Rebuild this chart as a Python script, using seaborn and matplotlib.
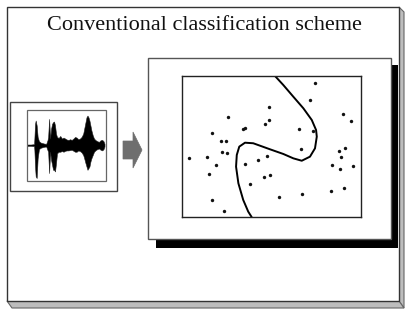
import matplotlib
matplotlib.use("Agg")
import matplotlib.pyplot as plt
import seaborn as sns
import pandas as pd
from matplotlib.patches import Rectangle, Polygon

sns.set_theme(style="white")
plt.rcParams['font.family'] = ['Liberation Serif', 'DejaVu Serif']

title = "Conventional classification scheme"

# scatter points (feature space, 0-100)
pt_x = [74.5, 71.7, 48.8, 90.1, 94.2, 25.9, 48.8, 46.6, 35.0, 34.1, 65.5, 73.0, 16.6, 21.6,
        24.4, 90.9, 87.7, 66.7, 22.3, 25.0, 88.6, 4.1, 14.2, 47.7, 42.3, 18.8, 35.4, 83.6,
        95.5, 88.1, 14.9, 49.2, 45.8, 37.8, 90.3, 83.1, 66.9, 54.4, 16.8, 23.5]
pt_y = [95.0, 83.0, 77.8, 73.1, 68.4, 70.8, 68.9, 66.0, 63.2, 62.3, 62.7, 61.3, 59.9, 53.8,
        54.2, 49.1, 46.5, 48.1, 45.8, 45.3, 42.9, 41.5, 42.5, 43.2, 40.3, 37.0, 37.7, 36.8,
        36.3, 33.7, 30.4, 29.5, 28.3, 23.6, 20.5, 18.4, 16.3, 14.2, 12.0, 4.5]

# decision boundary
bd_x = [51.96, 56.6, 62.2, 67.8, 72.5, 74.9, 75.3, 74.3, 71.5, 66.9, 62.2, 56.6, 49.2,
        39.8, 35.2, 32.0, 30.6, 30.2, 31.5, 34.2, 37.0, 38.9]
bd_y = [100, 93.6, 85.3, 77.1, 68.8, 61.7, 57.0, 48.7, 42.8, 39.9, 41.6, 44.7, 48.0,
        52.3, 52.7, 49.9, 44.0, 35.7, 23.9, 12.1, 3.8, 0]

# speech waveform envelope (time, top, bottom)
wave_t = [5, 15, 25, 26, 28, 30, 33, 36, 40, 45, 55, 62, 66, 68, 71, 74, 77, 80, 83, 86, 89,
          92, 95, 100, 105, 110, 115, 120, 125, 130, 135, 140, 145, 150, 155, 160, 165, 170,
          175, 178, 182, 185, 188, 191, 194, 197, 200, 204, 208, 213, 218, 223, 228, 233,
          237, 240]
wave_top = [118, 118, 117, 100, 55, 45, 60, 95, 108, 112, 115, 116, 105, 95, 40, 100, 70, 55,
            50, 48, 60, 85, 95, 98, 92, 100, 97, 100, 103, 104, 102, 104, 100, 95, 97, 102,
            100, 95, 85, 70, 50, 35, 30, 35, 45, 60, 75, 90, 100, 105, 108, 110, 105, 104,
            108, 116]
wave_bot = [122, 122, 123, 135, 185, 215, 220, 160, 132, 128, 125, 124, 135, 140, 205, 140,
            165, 180, 195, 195, 200, 175, 145, 140, 140, 138, 140, 137, 136, 136, 135, 134,
            137, 140, 140, 136, 138, 142, 150, 160, 175, 185, 195, 190, 185, 170, 160, 150,
            140, 135, 132, 130, 134, 136, 132, 124]

W, H = 405, 309
fig = plt.figure(figsize=(W / 100, H / 100), dpi=100)
fig.patch.set_facecolor("white")

bg = fig.add_axes([0, 0, 1, 1])
bg.set_xlim(0, W)
bg.set_ylim(H, 0)
bg.axis("off")

# outer slide frame with bevel
bg.add_patch(Polygon([(399, 7), (404, 12), (404, 308), (399, 301)], closed=True,
                     facecolor="#bdbdbd", edgecolor="#666666", lw=0.8))
bg.add_patch(Polygon([(7, 301), (399, 301), (404, 308), (12, 308)], closed=True,
                     facecolor="#bdbdbd", edgecolor="#666666", lw=0.8))
bg.add_patch(Rectangle((7, 7), 392, 294, facecolor="white", edgecolor="#333333", lw=1.0))

bg.text(204, 25, title, ha="center", va="center", fontsize=16, color="#111111")

# waveform panel frames
bg.add_patch(Rectangle((10, 102), 107, 89, facecolor="white", edgecolor="#444444", lw=1.0))
bg.add_patch(Rectangle((27, 109.5), 79, 71, facecolor="white", edgecolor="#666666", lw=0.9))

# arrow
bg.add_patch(Polygon([(123, 141), (133, 141), (133, 132), (142, 150), (133, 168),
                      (133, 159), (123, 159)], closed=True, facecolor="#6e6e6e",
                     edgecolor="#6e6e6e", lw=0.5))

# feature-space panel with shadow
bg.add_patch(Rectangle((156, 65), 242, 183, facecolor="black", edgecolor="black", lw=0))
bg.add_patch(Rectangle((148, 58), 243, 181, facecolor="white", edgecolor="#555555", lw=1.0))


def px_axes(x0, y0, x1, y1):
    return fig.add_axes([x0 / W, 1 - y1 / H, (x1 - x0) / W, (y1 - y0) / H])


# waveform
wax = px_axes(27.5, 110, 105.5, 180)
wax.fill_between(wave_t, wave_top, wave_bot, color="black", lw=0.4, edgecolor="#222222")
wax.set_xlim(5, 243)
wax.set_ylim(226, 13)
wax.axis("off")
wax.patch.set_alpha(0)

# scatter + boundary
sax = px_axes(182, 76, 361, 217)
df_pts = pd.DataFrame({"x": pt_x, "y": pt_y})
df_bd = pd.DataFrame({"x": bd_x, "y": bd_y})
sns.scatterplot(data=df_pts, x="x", y="y", ax=sax, color="#111111", s=6, linewidth=0)
sns.lineplot(data=df_bd, x="x", y="y", ax=sax, sort=False, color="black", lw=1.4,
             estimator=None)
sax.set_xlim(0, 100)
sax.set_ylim(0, 100)
sax.set_xticks([])
sax.set_yticks([])
sax.set_xlabel("")
sax.set_ylabel("")
for sp in sax.spines.values():
    sp.set_visible(True)
    sp.set_color("#222222")
    sp.set_linewidth(1.0)

fig.savefig("out.png", dpi=100)
